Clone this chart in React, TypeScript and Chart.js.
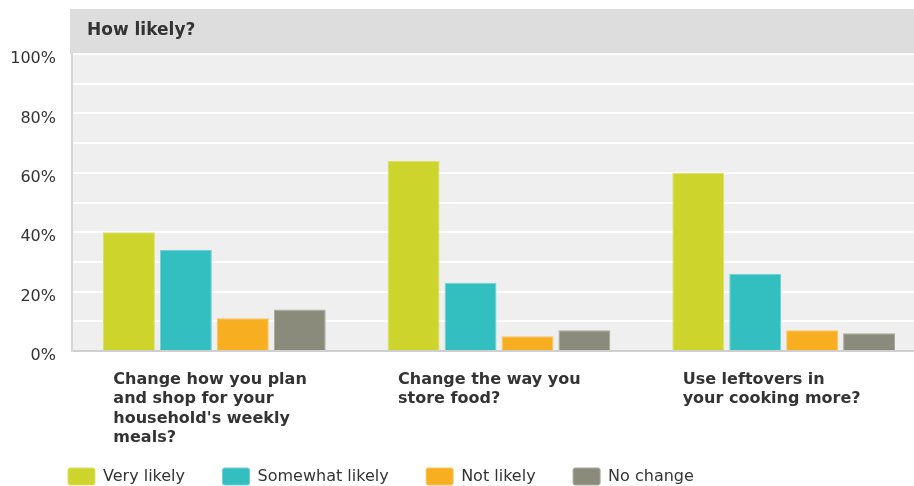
import React, { useEffect, useRef } from "react";
import { Chart, registerables } from "chart.js";

Chart.register(...registerables);

const categories: string[][] = [
  ["Change how you plan", "and shop for your", "household's weekly", "meals?"],
  ["Change the way you", "store food?"],
  ["Use leftovers in", "your cooking more?"],
];
const seriesNames = ["Very likely", "Somewhat likely", "Not likely", "No change"];
const veryLikely = [40, 64, 60];
const somewhatLikely = [34, 23, 26];
const notLikely = [11, 5, 7];
const noChange = [14, 7, 6];
const fillColors = ["#cdd42b", "#33bec0", "#f7ae20", "#8a8b7a"];
const edgeColors = ["#dbe06a", "#6fd1d3", "#f9c45e", "#a8a99b"];
const yTickValues = [0, 20, 40, 60, 80, 100];
const headerTitle = "How likely?";

const FONT = "'DejaVu Sans', sans-serif";
const LEGEND_PAD = 37.5;

const panelPlugin = {
  id: "panel",
  afterLayout(chart: any) {
    const lg = chart.legend;
    if (lg) {
      lg.left = 68 - LEGEND_PAD;
      lg.top = 468 - LEGEND_PAD;
    }
  },
  beforeDraw(chart: any) {
    const { ctx, chartArea } = chart;
    ctx.save();
    ctx.fillStyle = "#dddddd";
    ctx.fillRect(chartArea.left - 2, 9, chart.width, chartArea.top - 9);
    ctx.fillStyle = "#efefef";
    ctx.fillRect(chartArea.left, chartArea.top, chartArea.right - chartArea.left, chartArea.bottom - chartArea.top);
    ctx.fillStyle = "#333333";
    ctx.font = "bold 17px " + FONT;
    ctx.textAlign = "left";
    ctx.textBaseline = "middle";
    ctx.fillText(headerTitle, 87, 31);
    ctx.restore();
  },
};

export default function App() {
  const ref = useRef<HTMLCanvasElement | null>(null);
  useEffect(() => {
    if (!ref.current) return;
    const values = [veryLikely, somewhatLikely, notLikely, noChange];
    const chart = new Chart(ref.current, {
      type: "bar",
      data: {
        labels: categories,
        datasets: seriesNames.map((name, i) => ({
          label: name,
          data: values[i],
          backgroundColor: fillColors[i],
          borderColor: edgeColors[i],
          borderWidth: 1,
          categoryPercentage: 0.8,
          barPercentage: 0.912,
        })),
      },
      options: {
        responsive: false,
        animation: false,
        layout: { padding: { left: 8, top: 54, right: 0, bottom: 0 } },
        plugins: {
          tooltip: { enabled: false },
          legend: {
            position: "bottom",
            align: "start",
            maxHeight: 38,
            labels: {
              boxWidth: 27,
              boxHeight: 17,
              padding: LEGEND_PAD,
              useBorderRadius: true,
              borderRadius: 2,
              color: "#333333",
              font: { family: FONT, size: 16 },
            },
          },
        },
        scales: {
          x: {
            grid: { display: false, drawTicks: false },
            border: { display: true, color: "#cfcfcf", width: 2 },
            ticks: {
              align: "start",
              labelOffset: -101,
              padding: 19.4,
              color: "#333333",
              font: { family: FONT, size: 16, weight: "bold", lineHeight: 1.2 },
              maxRotation: 0,
              autoSkip: false,
            },
            afterFit(scale: any) {
              scale.paddingLeft = 0;
              scale.paddingRight = 0;
              scale.height = 97;
            },
          },
          y: {
            min: 0,
            max: 100,
            grid: { color: "#ffffff", lineWidth: 2, drawTicks: false },
            border: { color: "#d6d6d6", width: 2 },
            ticks: {
              stepSize: 10,
              padding: 16,
              labelOffset: 5,
              color: "#333333",
              font: { family: FONT, size: 16 },
              callback: (v: any) => (yTickValues.includes(Number(v)) ? v + "%" : ""),
            },
            afterFit(scale: any) {
              scale.width = 64;
            },
          },
        },
      },
      plugins: [panelPlugin],
    });
    return () => chart.destroy();
  }, []);
  return (
    <div style={{ position: "fixed", left: 0, top: 0, width: 914, height: 486, overflow: "hidden", background: "#ffffff" }}>
      <canvas ref={ref} width={926} height={486} style={{ display: "block", width: 926, height: 486 }} />
    </div>
  );
}
